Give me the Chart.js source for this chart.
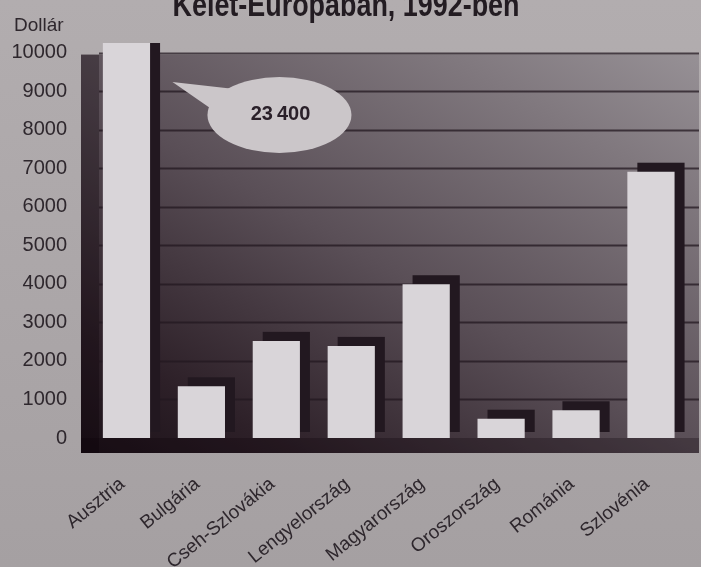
<!DOCTYPE html>
<html><head><meta charset="utf-8">
<style>
html,body{margin:0;padding:0;background:#aca7a9;overflow:hidden;}
canvas{display:block;}
</style>
<script src="https://cdn.jsdelivr.net/npm/chart.js@4.4.0/dist/chart.umd.min.js"></script>
</head><body>
<canvas id="c" width="701" height="567"></canvas>
<script>
// ---- data ----
const chartTitle = 'Kelet-Európában, 1992-ben';
const unitLabel = 'Dollár';
const categories = ['Ausztria','Bulgária','Cseh-Szlovákia','Lengyelország','Magyarország','Oroszország','Románia','Szlovénia'];
const values = [23400, 1340, 2520, 2390, 3990, 500, 720, 6910];
const yTickValues = [0,1000,2000,3000,4000,5000,6000,7000,8000,9000,10000];
const axisMax = 10250;
const calloutText = '23\u2009400';

const SANS = '"Liberation Sans", Arial, sans-serif';

const backdrop = {
  id: 'backdrop',
  beforeDraw(chart) {
    const ctx = chart.ctx, ca = chart.chartArea, ys = chart.scales.y;
    const W = chart.width, H = chart.height;
    ctx.save();
    // page
    let g = ctx.createLinearGradient(0, 0, 0, H);
    g.addColorStop(0, '#b2adaf');
    g.addColorStop(1, '#a5a0a2');
    ctx.fillStyle = g;
    ctx.fillRect(0, 0, W, H);
    // back wall
    const wl = ca.left - 8, wr = W - 2;
    const wt = ys.getPixelForValue(10000) + 2;
    const wb = ca.bottom + 15;
    g = ctx.createLinearGradient(wl, wb, wl + 326, wb - 564);
    g.addColorStop(0, 'rgb(28,18,25)');
    g.addColorStop(0.16, 'rgb(45,32,40)');
    g.addColorStop(0.48, 'rgb(90,79,87)');
    g.addColorStop(0.81, 'rgb(128,120,126)');
    g.addColorStop(1, 'rgb(150,144,149)');
    ctx.fillStyle = g;
    ctx.fillRect(wl, wt, wr - wl, wb - wt);
    // grid lines on the wall
    ctx.strokeStyle = 'rgba(35,24,32,0.75)';
    ctx.lineWidth = 2;
    yTickValues.forEach(v => {
      if (v === 0) return;
      const y = Math.round(ys.getPixelForValue(v)) + 0.5;
      ctx.beginPath();
      ctx.moveTo(ca.left + 10, y);
      ctx.lineTo(wr, y);
      ctx.stroke();
    });
    // left side wall
    ctx.fillStyle = 'rgba(10,0,8,0.30)';
    ctx.fillRect(wl, wt, ca.left + 10 - wl, wb - wt);
    // floor
    ctx.fillStyle = 'rgba(10,0,8,0.28)';
    ctx.fillRect(wl, ca.bottom, wr - wl, wb - ca.bottom);
    ctx.restore();
  },
  beforeDatasetsDraw(chart) {
    const ctx = chart.ctx, ca = chart.chartArea;
    const meta = chart.getDatasetMeta(0);
    ctx.save();
    ctx.beginPath();
    ctx.rect(ca.left, ca.top, ca.right + 20 - ca.left, ca.bottom - ca.top);
    ctx.clip();
    ctx.fillStyle = '#221820';
    meta.data.forEach(bar => {
      const w = bar.width;
      const top = Math.max(bar.y, ca.top) - 9;
      ctx.fillRect(bar.x - w / 2 + 10, top, w, bar.base - 6 - top);
    });
    ctx.restore();
  },
  afterDraw(chart) {
    const ctx = chart.ctx, ca = chart.chartArea;
    const bar = chart.getDatasetMeta(0).data[0];
    ctx.save();
    // callout for the clipped bar
    const cx = bar.x + 153, cy = ca.top + 72;
    ctx.fillStyle = '#cbc6c9';
    ctx.beginPath();
    ctx.moveTo(bar.x + 46, ca.top + 39);
    ctx.lineTo(cx - 45, cy - 26);
    ctx.lineTo(cx - 68, cy - 6);
    ctx.closePath();
    ctx.fill();
    ctx.beginPath();
    ctx.ellipse(cx, cy, 72, 38, 0, 0, Math.PI * 2);
    ctx.fill();
    ctx.fillStyle = '#2a2029';
    ctx.font = 'bold 20px ' + SANS;
    ctx.textAlign = 'center';
    ctx.textBaseline = 'middle';
    ctx.fillText(calloutText, cx + 1, cy - 1);
    // title (cut at top edge, as in the reference)
    ctx.font = 'bold 34px "Liberation Sans Narrow", ' + SANS;
    const nat = ctx.measureText(chartTitle).width;
    const sx = 347 / nat;
    ctx.translate(346, 16);
    ctx.scale(sx, 1);
    ctx.textAlign = 'center';
    ctx.textBaseline = 'alphabetic';
    ctx.fillStyle = '#231c22';
    ctx.fillText(chartTitle, 0, 0);
    ctx.setTransform(1, 0, 0, 1, 0, 0);
    // unit label
    ctx.font = '19px ' + SANS;
    ctx.fillStyle = '#2e272d';
    ctx.textAlign = 'left';
    ctx.fillText(unitLabel, 14, 31);
    ctx.restore();
  }
};

new Chart(document.getElementById('c'), {
  type: 'bar',
  data: {
    labels: categories,
    datasets: [{
      data: values,
      backgroundColor: '#d9d5d9',
      borderWidth: 0,
      barPercentage: 0.63,
      categoryPercentage: 1.0
    }]
  },
  options: {
    responsive: false,
    animation: false,
    devicePixelRatio: 1,
    layout: { padding: { top: 43, right: 11, left: 0, bottom: 0 } },
    plugins: { legend: { display: false }, tooltip: { enabled: false }, title: { display: false } },
    scales: {
      x: {
        grid: { display: false, drawTicks: false },
        border: { display: false },
        ticks: {
          autoSkip: false, minRotation: 39, maxRotation: 39, padding: 35, labelOffset: -4,
          color: '#2e272d', font: { family: SANS, size: 19 }
        },
        afterFit(s) { s.height = 129; }
      },
      y: {
        min: 0, max: axisMax,
        grid: { display: false, drawTicks: false },
        border: { display: false },
        afterBuildTicks(s) { s.ticks = yTickValues.map(v => ({ value: v })); },
        ticks: {
          padding: 22, color: '#2e272d', font: { family: SANS, size: 20 },
          callback: v => String(v)
        },
        afterFit(s) { s.width = 89; }
      }
    }
  },
  plugins: [backdrop]
});
</script>
</body></html>
